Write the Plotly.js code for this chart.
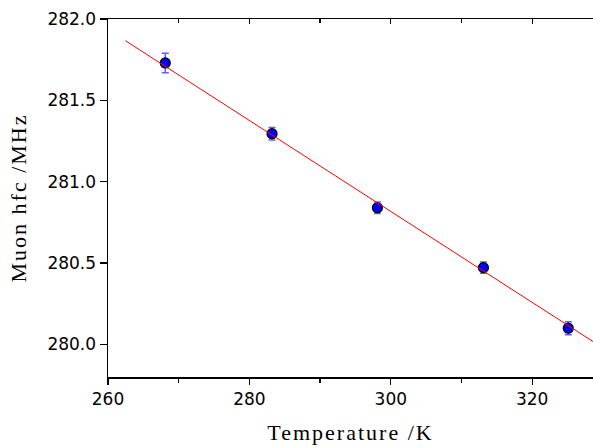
<!DOCTYPE html>
<html>
<head>
<meta charset="utf-8">
<script src="https://cdn.plot.ly/plotly-3.0.1.min.js"></script>
<style>
  html, body { margin: 0; padding: 0; background: #fff; }
  #chart { width: 593px; height: 448px; }
  /* widen the serif axis titles a little */
  #chart .xtitle, #chart .ytitle { letter-spacing: 2px; }
</style>
</head>
<body>
<div id="chart"></div>
<script>
// Muon hyperfine coupling constant versus temperature, with linear fit
const temperatureK = [268.1, 283.2, 298.1, 313.1, 325.1];
const hfcMHz = [281.73, 281.295, 280.84, 280.472, 280.10];
const hfcErrMHz = [0.06, 0.038, 0.035, 0.035, 0.04];

// Linear fit drawn between these two end points
const fitTemperatureK = [262.45, 328.6];
const fitHfcMHz = [281.867, 280.018];

const xTickVals = [260, 280, 300, 320];
const xTickText = ['260', '280', '300', '320'];
const yTickVals = [280.0, 280.5, 281.0, 281.5, 282.0];
const yTickText = ['280.0', '280.5', '281.0', '281.5', '282.0'];

const xRange = [260, 328.6];
const yRange = [279.8, 282.0];

const tickFont = { family: 'DejaVu Sans, Verdana, sans-serif', size: 17, color: '#000' };
const titleFont = { family: 'Liberation Serif, Times New Roman, serif', size: 22, color: '#000' };

const traces = [
  {
    x: fitTemperatureK,
    y: fitHfcMHz,
    xaxis: 'x2',
    yaxis: 'y',
    mode: 'lines',
    line: { color: '#ff0000', width: 1 },
    hoverinfo: 'skip',
    showlegend: false
  },
  {
    x: temperatureK,
    y: hfcMHz,
    mode: 'markers',
    marker: { color: '#0000ff', size: 10, line: { color: '#000', width: 1.2 } },
    error_y: {
      type: 'data',
      array: hfcErrMHz,
      visible: true,
      color: 'rgba(40,40,255,0.75)',
      thickness: 1.5,
      width: 3.5
    },
    showlegend: false
  }
];

const layout = {
  width: 593,
  height: 448,
  margin: { l: 108, r: 0, t: 19, b: 71 },
  paper_bgcolor: '#fff',
  plot_bgcolor: '#fff',
  showlegend: false,
  xaxis: {
    range: xRange,
    tickmode: 'array',
    tickvals: xTickVals,
    ticktext: xTickText,
    ticks: 'outside',
    ticklen: 6,
    tickwidth: 1.3,
    tickcolor: '#000',
    minor: { dtick: 10, tick0: 260, ticks: 'outside', ticklen: 4, tickwidth: 1.3, tickcolor: '#000', showgrid: false },
    showline: true,
    linecolor: '#000',
    linewidth: 1.5,
    showgrid: false,
    zeroline: false,
    tickfont: tickFont,
    title: { text: 'Temperature /K', font: titleFont, standoff: 16 }
  },
  xaxis2: {
    overlaying: 'x',
    side: 'top',
    range: xRange,
    tickmode: 'array',
    tickvals: xTickVals,
    ticks: 'inside',
    ticklen: 5,
    tickwidth: 1.3,
    tickcolor: '#000',
    minor: { dtick: 10, tick0: 260, ticks: 'inside', ticklen: 4, tickwidth: 1.3, tickcolor: '#000', showgrid: false },
    showticklabels: false,
    showline: true,
    linecolor: '#000',
    linewidth: 1.5,
    showgrid: false,
    zeroline: false
  },
  yaxis: {
    range: yRange,
    tickmode: 'array',
    tickvals: yTickVals,
    ticktext: yTickText,
    ticks: 'outside',
    ticklen: 7,
    tickwidth: 1.3,
    tickcolor: '#000',
    showline: true,
    linecolor: '#000',
    linewidth: 1.5,
    showgrid: false,
    zeroline: false,
    tickfont: tickFont,
    title: { text: 'Muon hfc /MHz', font: titleFont, standoff: 14 }
  }
};

Plotly.newPlot('chart', traces, layout, { displayModeBar: false, staticPlot: true });
</script>
</body>
</html>
